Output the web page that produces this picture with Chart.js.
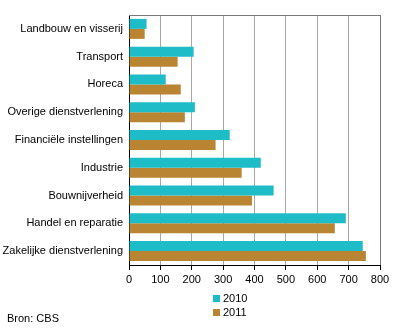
<!DOCTYPE html>
<html>
<head>
<meta charset="utf-8">
<script src="https://cdn.jsdelivr.net/npm/chart.js@4/dist/chart.umd.min.js"></script>
<style>
    body { margin: 0; background: #fff; }
    #wrap { position: relative; width: 396px; height: 330px; font-family: 'Liberation Sans', Arial, sans-serif; font-size: 11px; color: #000; }
    #legend { position: absolute; left: 213px; top: 291px; }
    #legend div { height: 14px; line-height: 14px; white-space: nowrap; }
    #legend span.box { display: inline-block; width: 7px; height: 7px; margin-right: 3px; vertical-align: 0px; }
    #source { position: absolute; left: 7px; top: 311px; line-height: 14px; }
</style>
</head>
<body>
<div id="wrap">
    <canvas id="chart" width="396" height="330"></canvas>
    <div id="legend"></div>
    <div id="source">Bron: CBS</div>
</div>
<script>
'use strict';

var categories = [
    'Landbouw en visserij',
    'Transport',
    'Horeca',
    'Overige dienstverlening',
    'Financiële instellingen',
    'Industrie',
    'Bouwnijverheid',
    'Handel en reparatie',
    'Zakelijke dienstverlening'
];
var series2010 = [56, 206, 117, 210, 321, 420, 461, 691, 745];
var series2011 = [50, 155, 165, 178, 276, 359, 392, 656, 755];
var seriesLabels = ['2010', '2011'];
var xTicks = [0, 100, 200, 300, 400, 500, 600, 700, 800];

var colors = ['#1ebcc6', '#b98532'];
var fontFamily = "'Liberation Sans', Arial, sans-serif";

// top border of the plot area (the right one is the 800 gridline)
var frameTop = {
    id: 'frameTop',
    beforeDatasetsDraw: function (chart) {
        var a = chart.chartArea, ctx = chart.ctx;
        ctx.save();
        ctx.strokeStyle = '#7a7a7a';
        ctx.lineWidth = 1;
        ctx.beginPath();
        ctx.moveTo(a.left, a.top + 0.5);
        ctx.lineTo(a.right + 0.5, a.top + 0.5);
        ctx.stroke();
        ctx.restore();
    }
};

var chart = new Chart(document.getElementById('chart').getContext('2d'), {
    type: 'bar',
    data: {
        labels: categories,
        datasets: [
            { label: seriesLabels[0], data: series2010, backgroundColor: colors[0] },
            { label: seriesLabels[1], data: series2011, backgroundColor: colors[1] }
        ]
    },
    options: {
        indexAxis: 'y',
        responsive: false,
        animation: false,
        barPercentage: 1,
        categoryPercentage: 0.72,
        layout: { padding: { top: 15, right: 16, bottom: 43, left: 0 } },
        plugins: {
            legend: { display: false },
            tooltip: { enabled: false }
        },
        scales: {
            x: {
                min: 0,
                max: 800,
                afterBuildTicks: function (scale) {
                    scale.ticks = xTicks.map(function (v) { return { value: v }; });
                },
                afterFit: function (scale) { scale.height = 22; },
                grid: {
                    color: function (c) { return c.tick && c.tick.value === 800 ? '#7a7a7a' : '#a8a8a8'; },
                    tickColor: '#000',
                    tickLength: 5,
                    lineWidth: 1
                },
                border: { color: '#000' },
                ticks: {
                    color: '#000',
                    padding: 3,
                    maxRotation: 0,
                    font: { family: fontFamily, size: 11 }
                }
            },
            y: {
                afterFit: function (scale) { scale.width = 129; },
                grid: { display: false, drawTicks: false },
                border: { color: '#000' },
                ticks: {
                    color: '#000',
                    padding: 6,
                    font: { family: fontFamily, size: 11 }
                }
            }
        }
    },
    plugins: [frameTop]
});

// vertical legend under the axis
var legend = document.getElementById('legend');
chart.data.datasets.forEach(function (ds) {
    var row = document.createElement('div');
    var box = document.createElement('span');
    box.className = 'box';
    box.style.background = ds.backgroundColor;
    row.appendChild(box);
    row.appendChild(document.createTextNode(ds.label));
    legend.appendChild(row);
});
</script>
</body>
</html>
